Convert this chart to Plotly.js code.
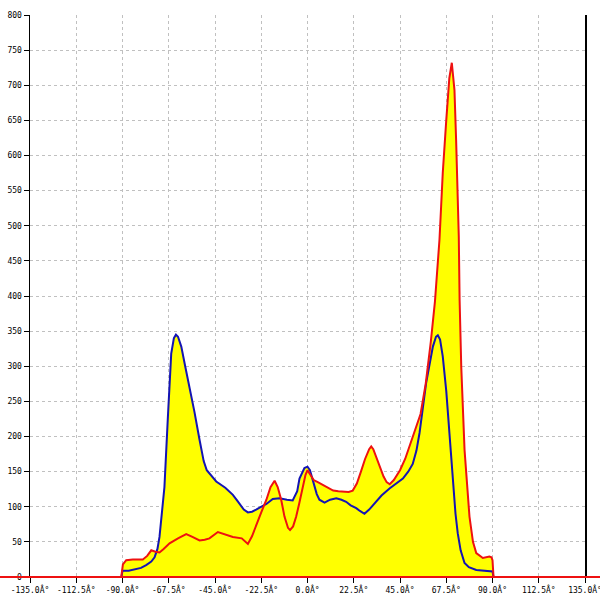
<!DOCTYPE html>
<html>
<head>
<meta charset="utf-8">
<script src="https://cdn.plot.ly/plotly-3.0.1.min.js"></script>
<style>html,body{margin:0;padding:0;background:#fff;}#chart{width:600px;height:600px;}</style>
</head>
<body>
<div id="chart"></div>
<script>
// Red series (angle in degrees, value)
const redX = [-135, -90.6, -89.8, -88.2, -85, -80.1, -78, -76, -74, -72, -70, -67.1, -63, -59, -56, -52.5, -50, -47.7, -43.6, -40, -36.3, -32, -30, -29, -27, -25, -22.5, -20, -18, -16, -14.5, -12.8, -11.2, -9.5, -8.5, -7, -5.5, -4, -2.3, -1, 0, 1.5, 3, 5, 7.5, 10, 12.5, 15, 20, 22, 24, 26, 28, 30, 31, 32, 33.5, 35, 37, 38.5, 40, 42, 45, 47.5, 50, 52.5, 55, 57.5, 60, 62, 64.2, 65, 65.8, 67.5, 69, 70.2, 71.5, 72.3, 73.1, 73.6, 74, 74.8, 76.4, 78.8, 80.5, 82.1, 85.3, 88.5, 89.5, 90, 90.5, 135];
const redY = [0, 0, 18, 24, 25, 25, 30, 38, 36, 35, 40, 48, 55, 61, 57, 52, 53, 55, 64, 60, 57, 55, 50, 47, 58, 72, 92, 110, 128, 137, 128, 110, 86, 70, 67, 72, 86, 105, 128, 145, 152, 145, 138, 135, 131, 127, 123, 122, 121, 123, 133, 150, 168, 182, 186, 182, 170, 157, 143, 135, 132, 138, 152, 168, 190, 210, 232, 275, 335, 392, 480, 527, 575, 650, 710, 732, 693, 622, 551, 484, 394, 299, 181, 86, 50, 34, 27, 29, 28, 24, 0, 0];

// Blue series
const blueX = [-90.5, -90, -87, -85, -81, -78.5, -76, -74.4, -73, -72, -71, -69.6, -68, -67, -66.3, -65, -64, -63, -61.4, -59.5, -57.4, -55, -52.5, -50.5, -49, -47, -44.4, -40, -36.3, -34, -33, -31, -29, -27, -25, -23.3, -20, -16.9, -13.6, -10, -7.2, -5, -3.9, -1.5, 0, 1.2, 2.6, 4.5, 5.8, 8.3, 11, 14, 16.5, 18.8, 21, 23.7, 25.5, 27.7, 30, 33.4, 36, 39.9, 43, 46.4, 49, 51.2, 53, 54.5, 57.7, 61, 62.5, 63.4, 64.5, 65.8, 67.5, 69.1, 70.7, 72, 73.1, 74.5, 76.4, 78.5, 82.1, 86, 89.3, 90, 90.5];
const blueY = [0, 9, 9, 10, 13, 17, 22, 28, 40, 57, 85, 128, 223, 280, 318, 340, 345, 342, 328, 300, 271, 235, 195, 165, 152, 145, 136, 127, 117, 108, 104, 96, 92, 93, 96, 99, 104, 111, 112, 110, 109, 122, 140, 155, 157, 152, 138, 118, 110, 106, 110, 112, 110, 107, 102, 98, 94, 90, 96, 107, 116, 126, 133, 140, 150, 161, 180, 205, 276, 328, 342, 344, 338, 314, 265, 204, 133, 90, 62, 38, 20, 14, 10, 9, 8, 8, 0];

const xTickVals = [-135, -112.5, -90, -67.5, -45, -22.5, 0, 22.5, 45, 67.5, 90, 112.5, 135];
const xTickText = ["-135.0Â°", "-112.5Â°", "-90.0Â°", "-67.5Â°", "-45.0Â°", "-22.5Â°", "0.0Â°", "22.5Â°", "45.0Â°", "67.5Â°", "90.0Â°", "112.5Â°", "135.0Â°"];
const yTickVals = [0, 50, 100, 150, 200, 250, 300, 350, 400, 450, 500, 550, 600, 650, 700, 750, 800];

const fillColor = '#ffff00';
const traces = [
  {x: blueX, y: blueY, type: 'scatter', mode: 'lines', fill: 'tozeroy', fillcolor: fillColor, line: {width: 0, color: fillColor}, hoverinfo: 'skip'},
  {x: redX, y: redY, type: 'scatter', mode: 'lines', fill: 'tozeroy', fillcolor: fillColor, line: {width: 0, color: fillColor}, hoverinfo: 'skip'},
  {x: blueX, y: blueY, type: 'scatter', mode: 'lines', line: {color: '#1414b4', width: 2}},
  {x: redX, y: redY, type: 'scatter', mode: 'lines', line: {color: '#ee1111', width: 2}}
];

const tickFont = {family: 'DejaVu Sans Mono, monospace', size: 8, color: '#000'};
const layout = {
  width: 600, height: 600,
  margin: {l: 30, r: 15, t: 15, b: 23, pad: 0},
  paper_bgcolor: '#fff', plot_bgcolor: '#fff',
  showlegend: false,
  xaxis: {
    range: [-135, 135], tickmode: 'array', tickvals: xTickVals, ticktext: xTickText,
    ticks: 'outside', ticklen: 5, tickcolor: '#000', tickwidth: 1,
    showgrid: true, gridcolor: '#c0c0c0', griddash: '3px,3px', gridwidth: 1,
    showline: false, zeroline: false, tickfont: tickFont, fixedrange: true,
    ticklabeloverflow: 'allow'
  },
  yaxis: {
    range: [0, 800], tickmode: 'array', tickvals: yTickVals,
    ticks: 'outside', ticklen: 5, tickcolor: '#000', tickwidth: 1,
    showgrid: true, gridcolor: '#c0c0c0', griddash: '3px,3px', gridwidth: 1,
    showline: true, linecolor: '#000', linewidth: 1.5, mirror: true,
    zeroline: false, tickfont: tickFont, fixedrange: true
  },
  shapes: [
    {type: 'line', xref: 'paper', yref: 'paper', x0: -30/555, x1: 1 + 15/555, y0: 0, y1: 0, line: {color: '#ee1111', width: 2}, layer: 'above'}
  ]
};

Plotly.newPlot('chart', traces, layout, {displayModeBar: false, staticPlot: true});
</script>
</body>
</html>
